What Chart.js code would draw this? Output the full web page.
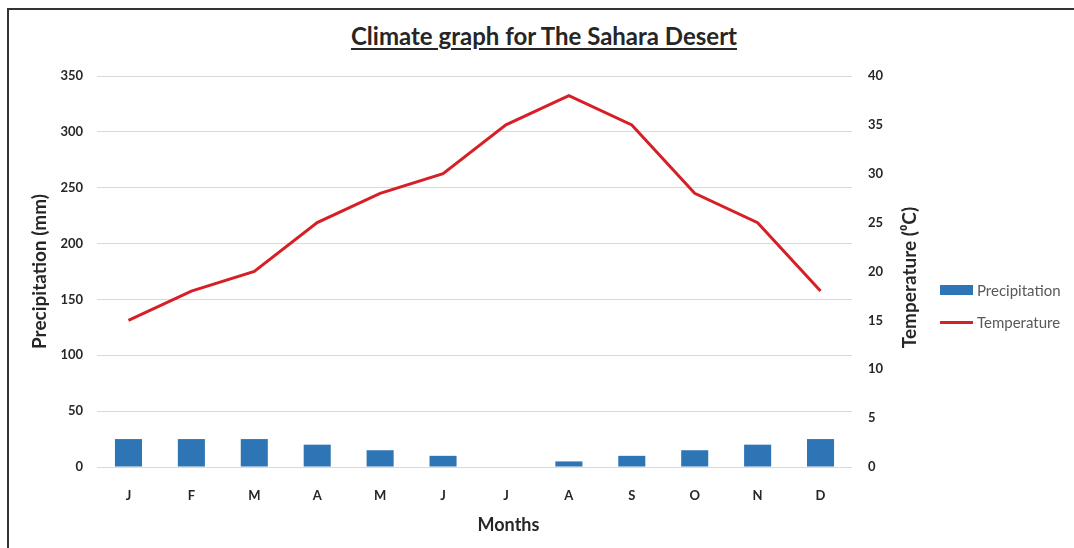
<!DOCTYPE html>
<html>
<head>
<meta charset="utf-8">
<script src="https://cdn.jsdelivr.net/npm/chart.js@4"></script>
<style>
  body { margin: 0; background: #fff; }
  #wrap { position: relative; width: 1074px; height: 548px; overflow: hidden; }
  #frame { position: absolute; left: 7px; top: 8px; right: -5px; bottom: -5px;
           border-top: 2px solid #333; border-left: 2px solid #333; }
  #title { position: absolute; left: 0; width: 1088px; top: 21px; text-align: center;
           font: bold 24px Lato, "Open Sans", sans-serif; color: #262626;
           text-decoration: underline; text-underline-offset: 3px; }
  canvas { position: absolute; left: 0; top: 0; }
  #legend { position: absolute; left: 940px; top: 274px; font: 15px Lato, "Open Sans", sans-serif; color: #595959; }
  #legend div { height: 32px; display: flex; align-items: center; }
  #legend span.sw { display: inline-block; width: 33px; margin-right: 4px; }
</style>
</head>
<body>
<div id="wrap">
  <div id="frame"></div>
  <div id="title">Climate graph for The Sahara Desert</div>
  <canvas id="climateChart" width="1074" height="548"></canvas>
  <div id="legend"></div>
</div>
<script>
const months = ['J', 'F', 'M', 'A', 'M', 'J', 'J', 'A', 'S', 'O', 'N', 'D'];
const precipitation = [25, 25, 25, 20, 15, 10, 0, 5, 10, 15, 20, 25];
const temperature = [15, 18, 20, 25, 28, 30, 35, 38, 35, 28, 25, 18];
const precipMax = 350;
const precipStep = 50;
const tempMax = 40;
const tempStep = 5;

const fontFamily = 'Lato, "Open Sans", sans-serif';
const tickFont = { family: fontFamily, size: 13, weight: 'bold' };
const titleFont = { family: fontFamily, size: 19, weight: 'bold' };

// right axis title reads bottom-to-top and "Months" sits right of centre in the original
const extraTitles = {
  id: 'extraTitles',
  afterDraw(chart) {
    const { ctx, chartArea, scales } = chart;
    ctx.save();
    ctx.fillStyle = '#262626';
    ctx.textAlign = 'center';
    ctx.textBaseline = 'middle';
    ctx.font = 'bold 18px ' + fontFamily;
    ctx.fillText('Months', chartArea.left + chartArea.width * 0.545, 525);
    ctx.font = 'bold 19px ' + fontFamily;
    ctx.translate(scales.yTemp.right - 21, (chartArea.top + chartArea.bottom) / 2 + 6);
    ctx.rotate(-Math.PI / 2);
    ctx.fillText('Temperature (\u2070C)', 0, 0);
    ctx.restore();
  }
};

const chart = new Chart(document.getElementById('climateChart'), {
  data: {
    labels: months,
    datasets: [
      {
        type: 'line',
        label: 'Temperature',
        data: temperature,
        yAxisID: 'yTemp',
        borderColor: '#d61f26',
        backgroundColor: '#d61f26',
        borderWidth: 3,
        pointRadius: 0,
        tension: 0,
        order: 1
      },
      {
        type: 'bar',
        label: 'Precipitation',
        data: precipitation,
        yAxisID: 'yPrecip',
        backgroundColor: '#2e75b6',
        borderWidth: 0,
        barPercentage: 0.86,
        categoryPercentage: 0.5,
        order: 2
      }
    ]
  },
  options: {
    responsive: false,
    animation: false,
    layout: { padding: { left: 20, right: 143, top: 76, bottom: 11 } },
    plugins: {
      legend: { display: false },
      tooltip: { enabled: false }
    },
    scales: {
      x: {
        grid: { display: false },
        border: { display: false },
        ticks: { color: '#262626', font: tickFont, padding: 13 },
        afterFit: s => { s.height = 70; }
      },
      yPrecip: {
        position: 'left',
        min: 0,
        max: precipMax,
        ticks: { stepSize: precipStep, color: '#262626', font: tickFont, padding: 14 },
        grid: { color: '#d9d9d9', drawTicks: false },
        border: { display: false },
        title: { display: true, text: 'Precipitation (mm)', color: '#262626', font: titleFont, padding: { top: 8, bottom: 0 } },
        afterFit: s => { s.width = 77; }
      },
      yTemp: {
        position: 'right',
        min: 0,
        max: tempMax,
        ticks: { stepSize: tempStep, color: '#262626', font: tickFont, padding: 16 },
        grid: { display: false, drawTicks: false },
        border: { display: false },
        afterFit: s => { s.width = 79; }
      }
    }
  },
  plugins: [extraTitles]
});

// legend, reversed order as in the original
const legend = document.getElementById('legend');
chart.data.datasets.slice().reverse().forEach(ds => {
  const row = document.createElement('div');
  const sw = document.createElement('span');
  sw.className = 'sw';
  sw.style.background = ds.type === 'bar' ? ds.backgroundColor : ds.borderColor;
  sw.style.height = ds.type === 'bar' ? '10px' : ds.borderWidth + 'px';
  row.appendChild(sw);
  row.appendChild(document.createTextNode(ds.label));
  legend.appendChild(row);
});
</script>
</body>
</html>
